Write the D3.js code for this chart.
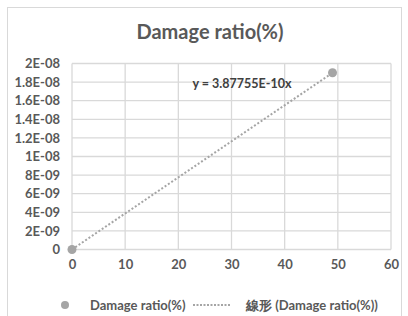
<!DOCTYPE html>
<html>
<head>
<meta charset="utf-8">
<script src="https://cdn.jsdelivr.net/npm/d3@7"></script>
<style>
  body { margin: 0; background: #fff; }
  svg { display: block; font-family: Lato, "Liberation Sans", Arial, sans-serif; font-weight: bold; }
</style>
</head>
<body>
<svg width="408" height="316"></svg>
<script>
// Chart data
var xValues = [0, 49];
var yValues = [0, 1.9e-8];
var slope = 3.87755e-10; // trendline through origin
var xTicks = [0, 10, 20, 30, 40, 50, 60];
var yTicks = [0, 2e-9, 4e-9, 6e-9, 8e-9, 1e-8, 1.2e-8, 1.4e-8, 1.6e-8, 1.8e-8, 2e-8];
var yTickLabels = ['0', '2E-09', '4E-09', '6E-09', '8E-09', '1E-08', '1.2E-08', '1.4E-08', '1.6E-08', '1.8E-08', '2E-08'];
var title = 'Damage ratio(%)';
var seriesName = 'Damage ratio(%)';
var trendName = '線形 (Damage ratio(%))';
var equation = 'y = 3.87755E-10x';

var svg = d3.select('svg');
var textColor = '#595959';
var gridColor = '#d9d9d9';
var markColor = '#a5a5a5';
var fontFam = 'Lato, "Liberation Sans", Arial, sans-serif';

// outer chart border
svg.append('rect')
    .attr('x', 7.5).attr('y', 7.5)
    .attr('width', 394).attr('height', 330)
    .attr('fill', 'none')
    .attr('stroke', gridColor);

var plot = {left: 72, right: 391, top: 63.5, bottom: 249.5};

var x = d3.scaleLinear().domain([0, 60]).range([plot.left, plot.right]);
var y = d3.scaleLinear().domain([0, 2e-8]).range([plot.bottom, plot.top]);

// title
svg.append('text')
    .attr('x', 210).attr('y', 39)
    .attr('text-anchor', 'middle')
    .style('font-size', '20px')
    .style('fill', textColor)
    .text(title);

// grid
svg.append('g').selectAll('line')
    .data(yTicks)
    .enter().append('line')
    .attr('x1', plot.left).attr('x2', plot.right)
    .attr('y1', function(d) { return y(d); })
    .attr('y2', function(d) { return y(d); })
    .style('stroke', gridColor)
    .style('stroke-width', 1.3);
svg.append('g').selectAll('line')
    .data(xTicks)
    .enter().append('line')
    .attr('y1', plot.top).attr('y2', plot.bottom)
    .attr('x1', function(d) { return x(d); })
    .attr('x2', function(d) { return x(d); })
    .style('stroke', gridColor)
    .style('stroke-width', 1.3);

// y axis labels
var yAxis = d3.axisLeft(y)
    .tickValues(yTicks)
    .tickSize(0)
    .tickPadding(12)
    .tickFormat(function(d, i) { return yTickLabels[i]; });
var gy = svg.append('g')
    .attr('transform', 'translate(' + plot.left + ',0)')
    .call(yAxis);
gy.select('.domain').remove();
gy.selectAll('text')
    .style('font-size', '13px')
    .style('font-family', fontFam)
    .style('fill', textColor);

// x axis labels
var xAxis = d3.axisBottom(x)
    .tickValues(xTicks)
    .tickSize(0)
    .tickPadding(10)
    .tickFormat(d3.format('d'));
var gx = svg.append('g')
    .attr('transform', 'translate(0,' + plot.bottom + ')')
    .call(xAxis);
gx.select('.domain').remove();
gx.selectAll('text')
    .style('font-size', '13px')
    .style('font-family', fontFam)
    .style('fill', textColor);

// trendline
var trendX = [0, d3.max(xValues)];
svg.append('line')
    .attr('x1', x(trendX[0])).attr('y1', y(slope * trendX[0]))
    .attr('x2', x(trendX[1])).attr('y2', y(slope * trendX[1]))
    .style('stroke', markColor)
    .style('stroke-width', 2)
    .style('stroke-dasharray', '2,2');

// points
svg.append('g').selectAll('circle')
    .data(xValues)
    .enter().append('circle')
    .attr('cx', function(d) { return x(d); })
    .attr('cy', function(d, i) { return y(yValues[i]); })
    .attr('r', 4.5)
    .style('fill', markColor);

// equation
svg.append('text')
    .attr('x', 242).attr('y', 88)
    .attr('text-anchor', 'middle')
    .style('font-size', '12.5px')
    .style('fill', '#404040')
    .text(equation);

// legend
var ly = 305;
svg.append('circle')
    .attr('cx', 65).attr('cy', ly)
    .attr('r', 4)
    .style('fill', markColor);
svg.append('text')
    .attr('x', 90).attr('y', ly + 4.5)
    .style('font-size', '13px')
    .style('fill', textColor)
    .text(seriesName);
svg.append('line')
    .attr('x1', 193).attr('x2', 231)
    .attr('y1', ly).attr('y2', ly)
    .style('stroke', markColor)
    .style('stroke-width', 2)
    .style('stroke-dasharray', '2,1.5');
svg.append('text')
    .attr('x', 246).attr('y', ly + 4.5)
    .style('font-size', '13px')
    .style('fill', textColor)
    .text(trendName);
</script>
</body>
</html>
